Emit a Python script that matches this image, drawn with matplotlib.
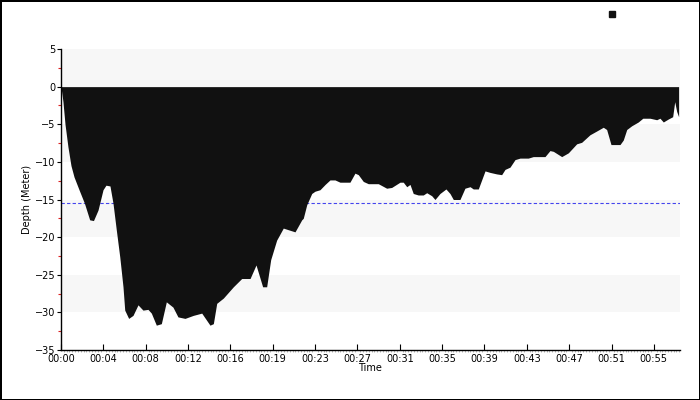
import matplotlib
matplotlib.use("Agg")
import matplotlib.pyplot as plt
from matplotlib.ticker import MultipleLocator, FixedLocator
from matplotlib.lines import Line2D

# time in minutes, depth in metres (positive down)
time_min = [0.0, 0.18, 0.37, 0.64, 0.92, 1.20, 1.66, 2.16, 2.64, 2.99, 3.41, 3.87, 4.14, 4.51,
            4.79, 5.09, 5.41, 5.71, 5.87, 6.23, 6.63, 7.09, 7.55, 8.01, 8.32, 8.78, 9.24, 9.70,
            10.31, 10.77, 11.42, 12.18, 12.96, 13.72, 14.03, 14.34, 14.95, 15.87, 16.64, 17.41,
            17.96, 18.57, 18.94, 19.31, 19.86, 20.47, 21.55, 22.17, 22.31, 22.63, 23.09, 23.39,
            23.85, 24.32, 24.77, 25.23, 25.69, 26.61, 27.07, 27.38, 27.84, 28.30, 29.22, 29.99,
            30.45, 31.22, 31.52, 31.84, 32.14, 32.44, 32.90, 33.36, 33.68, 34.14, 34.44, 34.90,
            35.45, 35.82, 36.13, 36.74, 37.20, 37.67, 37.97, 38.43, 39.05, 39.51, 40.12, 40.58,
            40.89, 41.35, 41.81, 42.27, 43.03, 43.49, 44.57, 45.03, 45.34, 46.11, 46.72, 47.49,
            47.95, 48.71, 49.33, 49.94, 50.25, 50.65, 51.48, 51.78, 52.10, 52.56, 53.16, 53.58,
            54.24, 54.86, 55.16, 55.47, 55.93, 56.33, 56.52, 56.70, 56.88]
depth_m = [0.0, 2.0, 5.0, 8.0, 10.5, 12.0, 13.7, 15.5, 17.7, 17.8, 16.4, 13.7, 13.1, 13.2,
           15.5, 19.0, 22.6, 26.6, 29.7, 30.8, 30.4, 29.0, 29.7, 29.6, 30.1, 31.7, 31.5, 28.6,
           29.3, 30.6, 30.8, 30.4, 30.1, 31.7, 31.5, 28.8, 28.1, 26.6, 25.5, 25.5,
           23.7, 26.6, 26.6, 23.0, 20.4, 18.8, 19.3, 17.7, 17.5, 15.7, 14.2, 13.9,
           13.7, 13.0, 12.4, 12.4, 12.7, 12.7, 11.5, 11.7, 12.6, 12.9, 12.9, 13.5,
           13.4, 12.7, 12.7, 13.3, 13.0, 14.2, 14.4, 14.4, 14.1, 14.5, 15.0, 14.2,
           13.6, 14.2, 15.0, 15.0, 13.5, 13.3, 13.6, 13.6, 11.2, 11.4, 11.6, 11.7,
           11.0, 10.7, 9.7, 9.5, 9.5, 9.3, 9.3, 8.5, 8.6, 9.3, 8.8, 7.6,
           7.4, 6.4, 5.9, 5.4, 5.7, 7.7, 7.7, 7.1, 5.7, 5.2, 4.7, 4.2,
           4.2, 4.4, 4.2, 4.7, 4.3, 4.0, 2.0, 3.3, 4.0]

avg_depth = 15.4
tick_pos = [0, 3.9, 7.8, 11.7, 15.6, 19.5, 23.4, 27.3, 31.2, 35.1, 39.0, 42.9, 46.8, 50.7, 54.6]
tick_labels = ["00:00", "00:04", "00:08", "00:12", "00:16", "00:19", "00:23", "00:27",
               "00:31", "00:35", "00:39", "00:43", "00:47", "00:51", "00:55"]
x_max = 56.96
y_ticks = [5, 0, -5, -10, -15, -20, -25, -30, -35]
bands = [(0, 5), (-10, -5), (-20, -15), (-30, -25)]

fig = plt.figure(figsize=(7, 4), dpi=100)
fig.patch.set_facecolor("white")
fig.patch.set_edgecolor("black")
fig.patch.set_linewidth(2)
ax = fig.add_axes([61/700, 50/400, (679.5-61)/700, (350-49)/400])

for lo, hi in bands:
    ax.axhspan(lo, hi, color="#f7f7f7", zorder=0, lw=0)

ax.axhline(-avg_depth, color="#4444ee", lw=0.8, ls=(0, (3, 2)), zorder=1)
neg = [-d for d in depth_m]
ax.fill_between(time_min, 0, neg, color="#111111", lw=0, zorder=2)

ax.set_xlim(0, x_max)
ax.set_ylim(-35, 5)
ax.xaxis.set_major_locator(FixedLocator(tick_pos))
ax.set_xticklabels(tick_labels)
ax.xaxis.set_minor_locator(MultipleLocator(0.26))
ax.set_yticks(y_ticks)
ax.yaxis.set_minor_locator(MultipleLocator(2.5))

for s in ["top", "right"]:
    ax.spines[s].set_visible(False)
ax.spines["left"].set_linewidth(1)
ax.spines["bottom"].set_linewidth(1)
ax.set_facecolor("white")

ax.tick_params(axis="x", which="major", direction="in", length=4, width=0.8, labelsize=7, pad=3)
ax.tick_params(axis="x", which="minor", direction="out", length=1.5, width=0.6, color="#aaaaaa")
ax.tick_params(axis="y", which="major", direction="out", length=3, width=0.8, labelsize=7, pad=1)
ax.tick_params(axis="y", which="minor", direction="out", length=2, width=0.8, color="#dd2222")

ax.set_xlabel("Time", fontsize=7, labelpad=-1)
ax.set_ylabel("Depth (Meter)", fontsize=7, labelpad=2)

handle = Line2D([], [], marker="s", color="#111111", linestyle="none", markersize=5)
fig.legend(handles=[handle], labels=[""], loc="center", bbox_to_anchor=(612/700, 1 - 15/400),
           frameon=False, handlelength=1, handletextpad=0)

fig.savefig("out.png", dpi=100)
